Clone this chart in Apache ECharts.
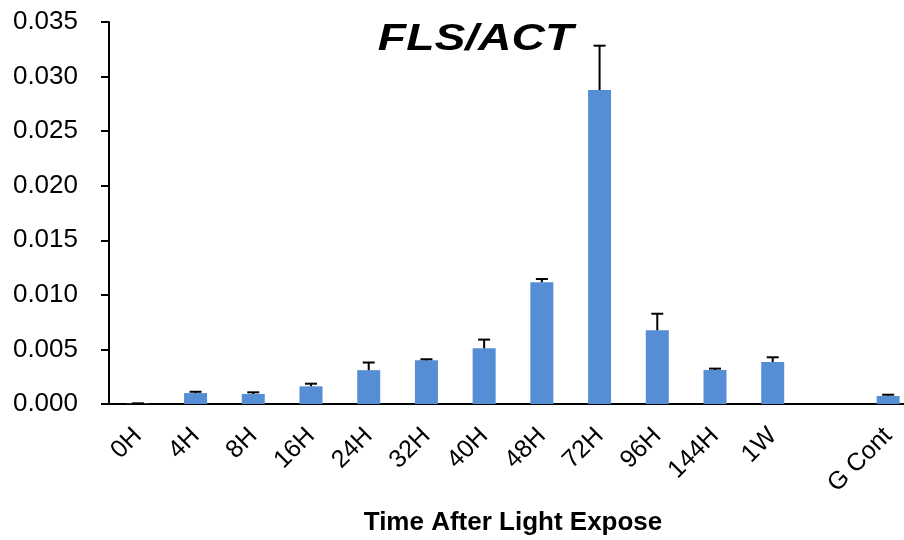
<!DOCTYPE html>
<html>
<head>
<meta charset="utf-8">
<script src="https://cdn.jsdelivr.net/npm/echarts@6/dist/echarts.min.js"></script>
<style>
  html, body { margin: 0; padding: 0; background: #ffffff; }
  #chart { width: 904px; height: 540px; }
</style>
</head>
<body>
<div id="chart"></div>
<script>
// Relative FLS expression (normalised to ACT) over time after light exposure
const categories = ['0H', '4H', '8H', '16H', '24H', '32H', '40H', '48H', '72H', '96H', '144H', '1W', '', 'G Cont'];
const means = [0.00003, 0.00100, 0.00092, 0.00162, 0.00310, 0.00400, 0.00510, 0.01115, 0.02877, 0.00675, 0.00312, 0.00385, null, 0.00073];
const errors = [0.00003, 0.00012, 0.00015, 0.00024, 0.00070, 0.00010, 0.00080, 0.00030, 0.00406, 0.00152, 0.00012, 0.00043, null, 0.00012];
const yTicks = { min: 0, max: 0.035, step: 0.005 };
const chartTitle = 'FLS/ACT';

const FONT = '"Liberation Sans", Arial, sans-serif';
const BAR_COLOR = '#558ed5';

const errorData = [];
categories.forEach((c, i) => {
  if (means[i] != null) errorData.push([i, means[i], errors[i]]);
});

const chart = echarts.init(document.getElementById('chart'), null, { renderer: 'canvas' });

chart.setOption({
  animation: false,
  backgroundColor: '#ffffff',
  // Wide-set italic heading, stretched horizontally
  graphic: [{
    type: 'text',
    x: 475.5,
    y: 39.5,
    scaleX: 1.25,
    z: 10,
    style: {
      text: chartTitle,
      fontFamily: FONT,
      fontSize: 37,
      fontWeight: 'bold',
      fontStyle: 'italic',
      fill: '#000000',
      align: 'center',
      verticalAlign: 'middle'
    }
  }],
  grid: { left: 109, top: 22, width: 808, height: 382, outerBoundsMode: 'none' },
  xAxis: {
    type: 'category',
    data: categories,
    name: 'Time After Light Expose',
    nameLocation: 'middle',
    nameGap: 106,
    nameTextStyle: { fontFamily: FONT, fontSize: 26, fontWeight: 'bold', color: '#000000' },
    axisLine: { lineStyle: { color: '#000000', width: 2 } },
    axisTick: { show: false },
    axisLabel: {
      rotate: 45,
      interval: 0,
      margin: 28,
      fontFamily: FONT,
      fontSize: 25,
      color: '#000000'
    },
    splitLine: { show: false }
  },
  yAxis: {
    type: 'value',
    min: yTicks.min,
    max: yTicks.max,
    interval: yTicks.step,
    axisLine: { show: true, lineStyle: { color: '#000000', width: 2 } },
    axisTick: { show: true, inside: false, length: 8, lineStyle: { color: '#000000', width: 2 } },
    axisLabel: {
      margin: 31,
      fontFamily: FONT,
      fontSize: 26,
      color: '#000000',
      formatter: v => v.toFixed(3)
    },
    splitLine: { show: false }
  },
  series: [
    {
      type: 'bar',
      data: means,
      barWidth: 23,
      itemStyle: { color: BAR_COLOR }
    },
    {
      type: 'custom',
      data: errorData,
      z: 5,
      renderItem: function (params, api) {
        const idx = api.value(0);
        const m = api.value(1);
        const e = api.value(2);
        const base = api.coord([idx, m]);
        const top = api.coord([idx, m + e]);
        const half = 6;
        const style = { stroke: '#000000', lineWidth: 2 };
        return {
          type: 'group',
          children: [
            { type: 'line', shape: { x1: base[0], y1: base[1], x2: top[0], y2: top[1] }, style: style },
            { type: 'line', shape: { x1: top[0] - half, y1: top[1], x2: top[0] + half, y2: top[1] }, style: style }
          ]
        };
      }
    }
  ]
});
</script>
</body>
</html>
